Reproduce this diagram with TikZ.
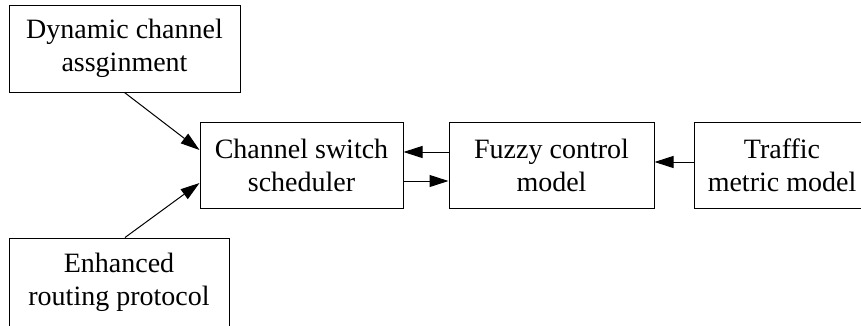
\documentclass[tikz,border=0pt]{standalone}
\usepackage{fontspec}
\setmainfont{Liberation Serif}
\usetikzlibrary{arrows.meta}
\begin{document}
\begin{tikzpicture}[x=1pt,y=-1pt,
  box/.style={draw, line width=1pt, rectangle, align=center, inner sep=0pt,
    font=\fontsize{28}{33}\selectfont},
  conn/.style={line width=1pt, -{Triangle[length=19pt,width=12pt]}}]
\useasboundingbox (0,0) rectangle (861,325);
\node[box, minimum width=231pt, minimum height=87pt] (dyn) at (124.5,48.5) {Dynamic channel\\assginment};
\node[box, minimum width=220pt, minimum height=88pt] (enh) at (119,282) {Enhanced\\routing protocol};
\node[box, minimum width=203pt, minimum height=86pt] (css) at (301.5,165) {Channel switch\\scheduler};
\node[box, minimum width=205pt, minimum height=86pt] (fcm) at (551.5,165) {Fuzzy control\\model};
\node[box, minimum width=176pt, minimum height=86pt] (tmm) at (782,165) {Traffic\\metric model};
\draw[conn] (dyn.south) -- ([yshift=15pt]css.west);
\draw[conn] ([xshift=6pt]enh.north) -- ([yshift=-18pt]css.west);
\draw[conn] ([yshift=13pt]fcm.west) -- ([yshift=13pt]css.east);
\draw[conn] ([yshift=-16pt]css.east) -- ([yshift=-16pt]fcm.west);
\draw[conn] ([yshift=3pt]tmm.west) -- ([yshift=3pt]fcm.east);
\end{tikzpicture}
\end{document}
